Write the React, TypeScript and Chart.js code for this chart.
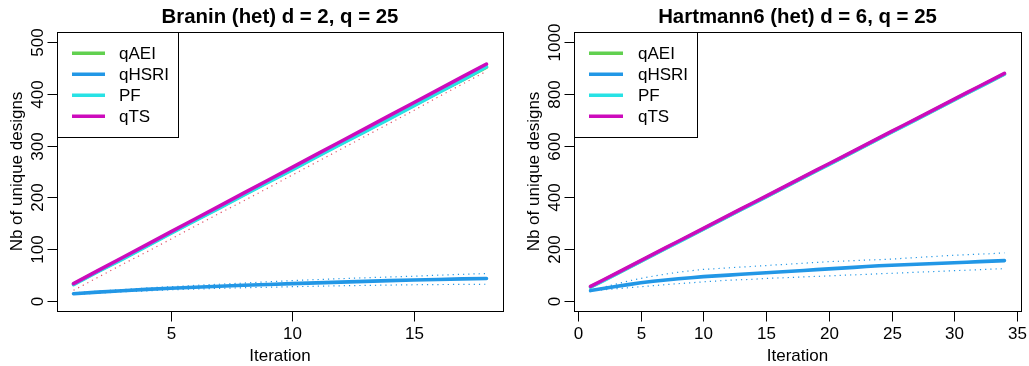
import React, { useEffect, useRef } from "react";
import { Chart, registerables } from "chart.js";

Chart.register(...registerables);

const FONT = '"Liberation Sans", Arial, Helvetica, sans-serif';

// ---------- Data ----------
const seriesNames = ["qAEI", "qHSRI", "PF", "qTS"];
const seriesColors = ["#61D04F", "#2297E6", "#28E2E5", "#CD0BBC"];
const bandRed = "#DF536B";

// Branin (het) d = 2, q = 25
const braninIter = [1, 2, 3, 4, 5, 6, 7, 8, 9, 10, 11, 12, 13, 14, 15, 16, 17, 18];
const braninQAEI = [32, 57, 81, 106, 131, 156, 180, 205, 230, 254, 279, 304, 328, 353, 378, 403, 427, 452];
const braninQHSRI = [13.5, 16.5, 19.3, 21.8, 24, 26, 27.9, 29.7, 31.4, 33, 34.5, 35.9, 37.3, 38.7, 40, 41.1, 42.1, 43];
const braninPF = [31, 56, 80, 105, 130, 155, 179, 204, 229, 253, 278, 303, 327, 352, 377, 402, 427, 453];
const braninQTS = [33, 58, 83, 108, 133, 158, 183, 208, 233, 258, 283, 308, 333, 358, 383, 408, 433, 458];
const braninQHSRILow = [12, 14.5, 17, 19, 21, 22.5, 23.8, 25, 26, 27, 28, 28.8, 29.5, 30.2, 30.8, 31.2, 31.5, 31.8];
const braninQHSRIHigh = [15, 18.5, 21.5, 24.5, 27, 29.5, 31.8, 34, 36.5, 38.8, 40.8, 42.6, 44.3, 45.8, 47.3, 49.3, 51, 52.5];
const braninRedLow = [20, 45, 70, 94, 119, 144, 169, 193, 218, 243, 268, 293, 318, 343, 368, 394, 419, 444];
const braninXTicks = [5, 10, 15];
const braninYTicks = [0, 100, 200, 300, 400, 500];

// Hartmann6 (het) d = 6, q = 25
const hartIter = [1, 2, 3, 4, 5, 6, 7, 8, 9, 10, 11, 12, 13, 14, 15, 16, 17, 18, 19, 20, 21, 22, 23, 24, 25, 26, 27, 28, 29, 30, 31, 32, 33, 34];
const hartQAEI = [53, 78, 103, 128, 153, 178, 203, 228, 253, 278, 303, 328, 353, 378, 403, 428, 453, 478, 503, 528, 553, 578, 603, 628, 653, 678, 703, 728, 753, 778, 803, 828, 853, 878];
const hartQHSRI = [39, 47, 55, 62, 69, 75, 80, 85, 89, 93, 96, 99, 102, 105, 108, 111, 114, 117, 120, 123, 126, 129, 132, 135, 137, 139, 141, 143, 145, 147, 149, 151, 153, 155];
const hartPF = [52, 77, 102, 127, 152, 177, 202, 227, 252, 277, 302, 327, 352, 377, 402, 427, 452, 477, 502, 527, 552, 577, 602, 627, 652, 677, 702, 727, 752, 777, 802, 827, 852, 877];
const hartQTS = [55, 80, 105, 130, 155, 180, 205, 230, 255, 280, 305, 330, 355, 380, 405, 430, 455, 480, 505, 530, 555, 580, 605, 630, 655, 680, 705, 730, 755, 780, 805, 830, 855, 880];
const hartQHSRILow = [38, 42, 46, 50, 54, 58, 62, 66, 69, 73, 76, 79, 81, 83, 86, 88, 90, 92, 94, 96, 98, 100, 102, 104, 106, 108, 110, 112, 114, 116, 118, 120, 122, 124];
const hartQHSRIHigh = [40, 52, 64, 76, 86, 95, 103, 110, 116, 121, 124, 127, 130, 133, 136, 139, 142, 145, 148, 151, 153, 155, 157, 159, 161, 164, 167, 170, 173, 176, 178, 180, 182, 185];
const hartXTicks = [0, 5, 10, 15, 20, 25, 30, 35];
const hartYTicks = [0, 200, 400, 600, 800, 1000];

// ---------- Helpers ----------
function pts(xs: number[], ys: number[]) {
  return xs.map((x, i) => ({ x, y: ys[i] }));
}

function mainLine(label: string, xs: number[], ys: number[], color: string, order: number) {
  return {
    label,
    data: pts(xs, ys),
    borderColor: color,
    backgroundColor: color,
    borderWidth: 3.6,
    pointRadius: 0,
    tension: 0,
    fill: false,
    borderCapStyle: "round",
    borderJoinStyle: "round",
    order,
  };
}

function bandLine(label: string, xs: number[], ys: number[], color: string, order: number) {
  return {
    label,
    data: pts(xs, ys),
    borderColor: color,
    backgroundColor: color,
    borderWidth: 1.2,
    borderDash: [1.2, 4],
    pointRadius: 0,
    tension: 0,
    fill: false,
    order,
  };
}

const rStyle = {
  id: "rStyle",
  afterDraw(chart: any, _args: any, opts: any) {
    const { ctx, chartArea: a, scales } = chart;
    const x = scales.x;
    const y = scales.y;
    ctx.save();
    ctx.strokeStyle = "#000";
    ctx.fillStyle = "#000";
    ctx.lineWidth = 1;
    // box
    ctx.strokeRect(Math.round(a.left) + 0.5, Math.round(a.top) + 0.5, Math.round(a.right - a.left), Math.round(a.bottom - a.top));
    // x ticks
    ctx.font = `17px ${FONT}`;
    ctx.textAlign = "center";
    ctx.textBaseline = "alphabetic";
    const bottom = Math.round(a.bottom) + 0.5;
    for (const v of opts.xTicks) {
      const px = Math.round(x.getPixelForValue(v)) + 0.5;
      ctx.beginPath();
      ctx.moveTo(px, bottom);
      ctx.lineTo(px, bottom + 10);
      ctx.stroke();
      ctx.fillText(String(v), px, a.bottom + 28);
    }
    // y ticks
    const left = Math.round(a.left) + 0.5;
    for (const v of opts.yTicks) {
      const py = Math.round(y.getPixelForValue(v)) + 0.5;
      ctx.beginPath();
      ctx.moveTo(left - 10, py);
      ctx.lineTo(left, py);
      ctx.stroke();
      ctx.save();
      ctx.translate(a.left - 14, py);
      ctx.rotate(-Math.PI / 2);
      ctx.fillText(String(v), 0, 0);
      ctx.restore();
    }
    // axis titles
    ctx.fillText("Iteration", (a.left + a.right) / 2, a.bottom + 49.5);
    ctx.save();
    ctx.translate(a.left - 35, (a.top + a.bottom) / 2);
    ctx.rotate(-Math.PI / 2);
    ctx.fillText("Nb of unique designs", 0, 0);
    ctx.restore();
    // main title
    ctx.font = `bold 20.4px ${FONT}`;
    ctx.fillText(opts.title, (a.left + a.right) / 2, 23);
    // legend
    const lx = Math.round(a.left) + 0.5;
    const ly = Math.round(a.top) + 0.5;
    ctx.fillStyle = "#fff";
    ctx.fillRect(lx, ly, opts.legendWidth, 105);
    ctx.strokeStyle = "#000";
    ctx.strokeRect(lx, ly, opts.legendWidth, 105);
    ctx.font = `17px ${FONT}`;
    ctx.textAlign = "left";
    ctx.textBaseline = "middle";
    seriesNames.forEach((name, i) => {
      const ry = a.top + 21.3 + 21 * i;
      ctx.strokeStyle = seriesColors[i];
      ctx.lineWidth = 3.4;
      ctx.lineCap = "butt";
      ctx.beginPath();
      ctx.moveTo(a.left + 15, ry);
      ctx.lineTo(a.left + opts.segEnd, ry);
      ctx.stroke();
      ctx.fillStyle = "#000";
      ctx.fillText(name, a.left + opts.textX, ry + 1);
    });
    ctx.restore();
  },
};

function makeChart(canvas: HTMLCanvasElement, cfg: any) {
  return new Chart(canvas, {
    type: "line",
    data: { datasets: cfg.datasets },
    options: {
      responsive: false,
      animation: false,
      devicePixelRatio: 1,
      layout: { padding: cfg.padding },
      scales: {
        x: { type: "linear", min: cfg.xMin, max: cfg.xMax, display: false },
        y: { type: "linear", min: cfg.yMin, max: cfg.yMax, display: false },
      },
      plugins: {
        legend: { display: false },
        title: { display: false },
        tooltip: { enabled: false },
        rStyle: cfg.rOpts,
      } as any,
    } as any,
    plugins: [rStyle],
  } as any);
}

export default function App() {
  const leftRef = useRef<HTMLCanvasElement>(null);
  const rightRef = useRef<HTMLCanvasElement>(null);

  useEffect(() => {
    const c1 = makeChart(leftRef.current!, {
      padding: { left: 57, top: 32, right: 11, bottom: 55 },
      xMin: 0.32,
      xMax: 18.68,
      yMin: -20,
      yMax: 520,
      rOpts: { title: "Branin (het) d = 2, q = 25", xTicks: braninXTicks, yTicks: braninYTicks, legendWidth: 121, segEnd: 48, textX: 62 },
      datasets: [
        bandLine("qHSRI low", braninIter, braninQHSRILow, seriesColors[1], 6),
        bandLine("qHSRI high", braninIter, braninQHSRIHigh, seriesColors[1], 6),
        bandLine("band low", braninIter, braninRedLow, bandRed, 5),
        mainLine("qAEI", braninIter, braninQAEI, seriesColors[0], 3),
        mainLine("qHSRI", braninIter, braninQHSRI, seriesColors[1], 2),
        mainLine("PF", braninIter, braninPF, seriesColors[2], 1),
        mainLine("qTS", braninIter, braninQTS, seriesColors[3], 0),
      ],
    });
    const c2 = makeChart(rightRef.current!, {
      padding: { left: 60, top: 32, right: 8, bottom: 55 },
      xMin: -0.32,
      xMax: 35.32,
      yMin: -40,
      yMax: 1040,
      rOpts: { title: "Hartmann6 (het) d = 6, q = 25", xTicks: hartXTicks, yTicks: hartYTicks, legendWidth: 123, segEnd: 49, textX: 64 },
      datasets: [
        bandLine("qHSRI low", hartIter, hartQHSRILow, seriesColors[1], 6),
        bandLine("qHSRI high", hartIter, hartQHSRIHigh, seriesColors[1], 6),
        mainLine("qAEI", hartIter, hartQAEI, seriesColors[0], 3),
        mainLine("qHSRI", hartIter, hartQHSRI, seriesColors[1], 2),
        mainLine("PF", hartIter, hartPF, seriesColors[2], 1),
        mainLine("qTS", hartIter, hartQTS, seriesColors[3], 0),
      ],
    });
    return () => {
      c1.destroy();
      c2.destroy();
    };
  }, []);

  return (
    <div style={{ position: "absolute", left: 0, top: 0, width: 1029, height: 366, background: "#fff" }}>
      <canvas ref={leftRef} width={514} height={366} style={{ position: "absolute", left: 0, top: 0, width: 514, height: 366 }} />
      <canvas ref={rightRef} width={515} height={366} style={{ position: "absolute", left: 514, top: 0, width: 515, height: 366 }} />
    </div>
  );
}
